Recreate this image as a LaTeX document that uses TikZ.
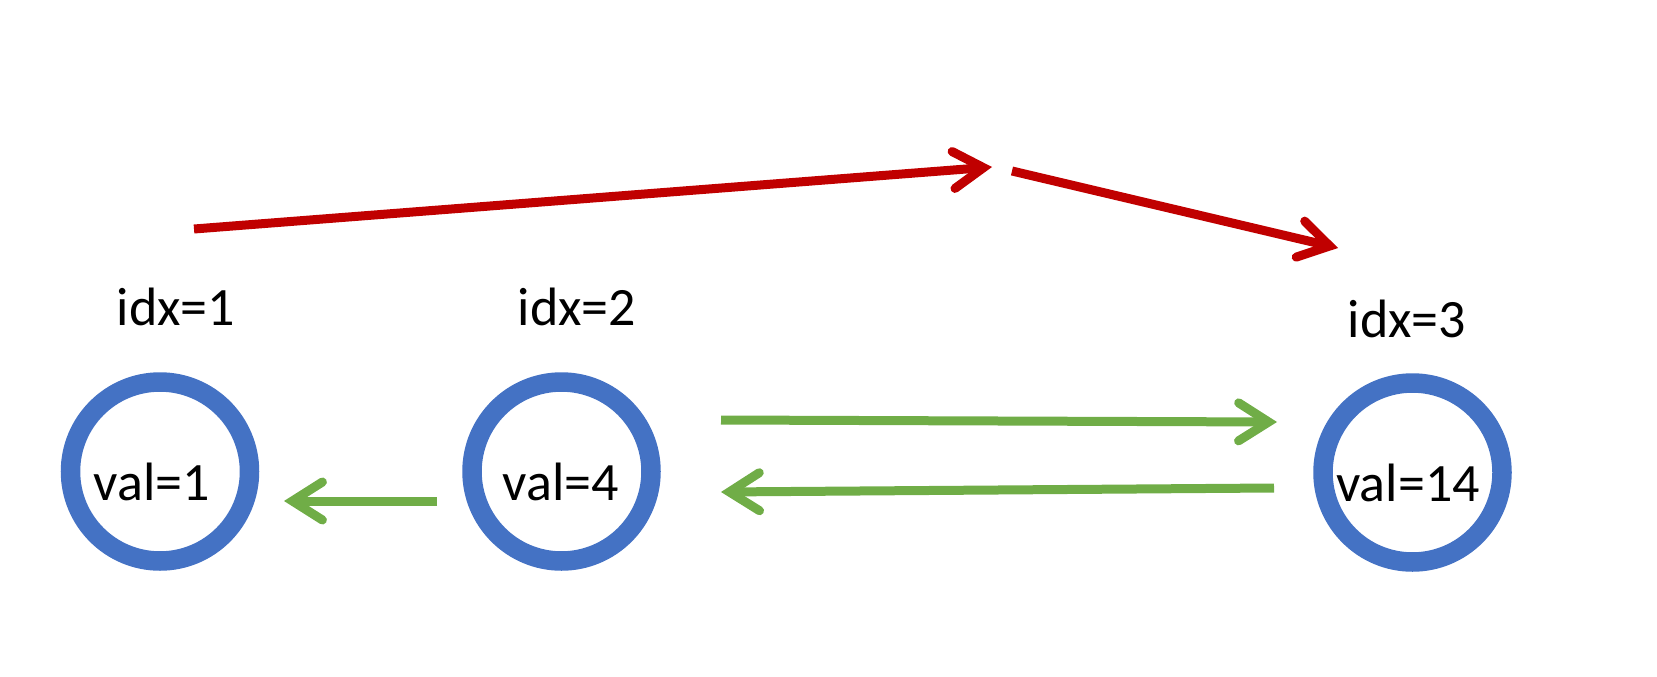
\documentclass[tikz,border=0pt]{standalone}
\usepackage{fontspec}
\setmainfont{Carlito}
\usetikzlibrary{arrows.meta}
\definecolor{nodeblue}{HTML}{4472C4}
\definecolor{arrgreen}{HTML}{70AD47}
\definecolor{arrred}{HTML}{C00000}
\begin{document}
\begin{tikzpicture}[x=1pt,y=-1pt,
  valnode/.style={circle,draw=nodeblue,line width=19.5pt,minimum size=179pt,inner sep=0pt},
  lbl/.style={anchor=base,inner sep=0pt,font=\fontsize{54}{60}\selectfont},
  garrow/.style={draw=arrgreen,line width=9pt,-{Straight Barb[length=30pt,width=38pt,line cap=round]}},
  rarrow/.style={draw=arrred,line width=9pt,-{Straight Barb[length=30pt,width=37pt,line cap=round]}}]
\useasboundingbox (0,0) rectangle (1657,677);
\node[valnode] (c1) at (160,471.5) {};
\node[valnode] (c2) at (561.5,471.5) {};
\node[valnode] (c3) at (1412.5,472.5) {};
\node[lbl] (v1) at (152,500) {val=1};
\node[lbl] (v2) at (561,500) {val=4};
\node[lbl] (v3) at (1408,501) {val=14};
\node[lbl] (i1) at (176,325) {idx=1};
\node[lbl] (i2) at (577,325) {idx=2};
\node[lbl] (i3) at (1407,337) {idx=3};
\coordinate (g1s) at (437,501);
\coordinate (g1e) at (284,501);
\coordinate (g2s) at (721,420);
\coordinate (g2e) at (1277,422);
\coordinate (g3s) at (1274,488);
\coordinate (g3e) at (721,492);
\coordinate (r1s) at (194,229);
\coordinate (r1e) at (992,167);
\coordinate (r2s) at (1012,171);
\coordinate (r2e) at (1338,248);
\draw[garrow] (g1s) -- (g1e);
\draw[garrow] (g2s) -- (g2e);
\draw[garrow] (g3s) -- (g3e);
\draw[rarrow] (r1s) -- (r1e);
\draw[rarrow] (r2s) -- (r2e);
\end{tikzpicture}
\end{document}
